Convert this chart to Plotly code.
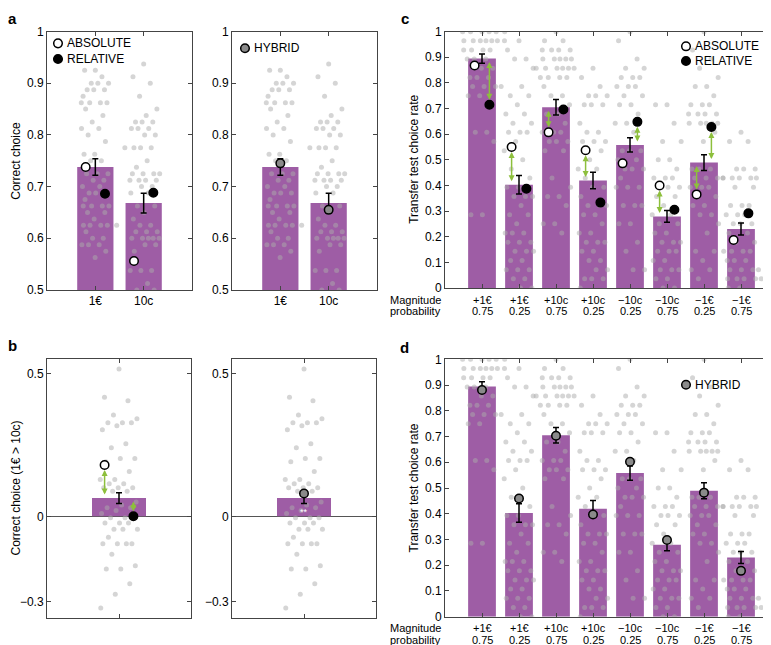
import plotly.graph_objects as go

# ---------------- panels a / b : learning test accuracy ----------------
money = ["1€", "10c"]
acc_mean = [0.738, 0.668]
acc_sem = [0.016, 0.019]
acc_absolute = [0.738, 0.556]
acc_relative = [0.686, 0.688]
acc_hybrid = [0.745, 0.655]

# one value per participant
acc_1e = [0.925, 0.925, 0.9125, 0.9, 0.9, 0.9, 0.8875, 0.8875, 0.8875, 0.875,
          0.8625, 0.8625, 0.8625, 0.8625, 0.85, 0.8375, 0.825, 0.8125, 0.8125,
          0.8, 0.7875, 0.7625, 0.7625, 0.75, 0.75, 0.725, 0.725, 0.725, 0.7125,
          0.7125, 0.7, 0.7, 0.6875, 0.6875, 0.6875, 0.675, 0.6625, 0.6625,
          0.6625, 0.6625, 0.65, 0.65, 0.6375, 0.625, 0.625, 0.625, 0.625, 0.625,
          0.6125, 0.6, 0.6, 0.5875, 0.5875, 0.5875, 0.575, 0.5625]
acc_10c = [0.9375, 0.9125, 0.9, 0.875, 0.85, 0.8375, 0.825, 0.825, 0.825,
           0.8125, 0.8125, 0.8125, 0.8, 0.8, 0.775, 0.775, 0.775, 0.775, 0.75,
           0.7375, 0.725, 0.725, 0.725, 0.725, 0.7125, 0.7125, 0.7125, 0.7125,
           0.7, 0.7, 0.6875, 0.6875, 0.6625, 0.6625, 0.65, 0.6375, 0.625, 0.625,
           0.6125, 0.6125, 0.6125, 0.6, 0.6, 0.6, 0.6, 0.6, 0.5875, 0.5875,
           0.575, 0.5375, 0.5375, 0.5375, 0.5125, 0.5, 0.5]

diff_mean = [0.064]
diff_sem = [0.019]
diff_absolute = [0.18]
diff_relative = [0.0]
diff_hybrid = [0.08]
diff_subjects = [0.516, 0.417, 0.405, 0.355, 0.342, 0.328, 0.328, 0.328, 0.317,
                 0.303, 0.254, 0.24, 0.203, 0.203, 0.191, 0.157, 0.129, 0.129,
                 0.114, 0.114, 0.1, 0.1, 0.1, 0.088, 0.088, 0.05, 0.04, 0.03,
                 0.03, 0.02, 0.01, -0.005, -0.005, -0.005, -0.023, -0.023,
                 -0.023, -0.045, -0.045, -0.045, -0.073, -0.096, -0.096, -0.096,
                 -0.096, -0.133, -0.173, -0.185, -0.185, -0.236, -0.273, -0.321]
diff_arrows = [["abs", "rel"]]

acc_ticks = [0.5, 0.6, 0.7, 0.8, 0.9, 1]
acc_ticktext = ["0.5", "0.6", "0.7", "0.8", "0.9", "1"]
diff_ticks = [-0.3, 0, 0.5]
diff_ticktext = ["−0.3", "0", "0.5"]

# ---------------- panels c / d : transfer test ----------------
magnitude = ["+1€", "+1€", "+10c", "+10c", "−10c", "−10c", "−1€", "−1€"]
probability = ["0.75", "0.25", "0.75", "0.25", "0.25", "0.75", "0.25", "0.75"]
transfer_mean = [0.895, 0.403, 0.705, 0.419, 0.558, 0.279, 0.489, 0.23]
transfer_sem = [0.018, 0.036, 0.030, 0.032, 0.028, 0.023, 0.031, 0.023]
transfer_absolute = [0.868, 0.55, 0.607, 0.537, 0.486, 0.40, 0.365, 0.187]
transfer_relative = [0.715, 0.387, 0.696, 0.333, 0.648, 0.305, 0.628, 0.291]
transfer_hybrid = [0.881, 0.459, 0.703, 0.397, 0.602, 0.298, 0.482, 0.178]
transfer_arrows = [["rel"], ["abs"], ["abs"], ["abs"], ["rel"], ["abs"],
                   ["abs", "rel"], []]

N_TRIALS = 28
# number of times each participant chose the option (out of N_TRIALS)
chosen_p1e_75 = [28, 28, 28, 28, 28, 28, 27, 27, 27, 27, 27, 27, 27, 26, 26, 26,
                 26, 25, 25, 25, 24, 24, 23, 23, 23, 22, 22, 22, 22, 21, 21, 17,
                 17, 16, 8, 8]
chosen_p1e_25 = [27, 26, 25, 25, 24, 22, 21, 21, 20, 19, 19, 18, 18, 17, 17, 17,
                 16, 15, 14, 13, 12, 11, 11, 10, 10, 10, 9, 8, 8, 7, 6, 6, 6, 5,
                 5, 5, 4, 4, 4, 3, 3, 2, 2, 2, 1, 1, 0, 0]
chosen_p10c_75 = [28, 27, 27, 26, 26, 26, 26, 25, 25, 25, 25, 25, 24, 24, 24, 24,
                  24, 24, 23, 23, 23, 23, 22, 21, 21, 20, 19, 19, 18, 17, 17, 17,
                  16, 16, 16, 15, 15, 12, 11, 10, 10, 9, 7, 7, 6]
chosen_p10c_25 = [24, 23, 22, 21, 21, 21, 20, 20, 20, 18, 17, 17, 16, 16, 16, 15,
                  14, 13, 13, 12, 11, 11, 10, 9, 9, 9, 8, 8, 7, 6, 6, 5, 5, 5, 4,
                  4, 3, 3, 2, 2, 1, 1, 1, 0]
chosen_m10c_25 = [28, 27, 25, 24, 24, 23, 23, 23, 22, 22, 22, 21, 21, 20, 20, 19,
                  18, 18, 17, 15, 15, 15, 14, 14, 13, 13, 13, 12, 11, 11, 11, 9,
                  9, 9, 7, 7, 5, 4, 2, 2]
chosen_m10c_75 = [20, 20, 18, 16, 16, 14, 14, 13, 12, 12, 12, 11, 11, 11, 10, 10,
                  9, 8, 8, 7, 7, 6, 6, 5, 5, 5, 4, 4, 4, 3, 3, 2, 2, 2, 1, 1, 0, 0]
chosen_m1e_25 = [28, 26, 25, 24, 23, 22, 22, 21, 20, 20, 20, 19, 19, 19, 19, 18,
                 18, 18, 18, 18, 17, 16, 13, 13, 13, 12, 12, 12, 12, 11, 11, 11,
                 10, 10, 9, 9, 8, 8, 7, 6, 4, 4, 3, 2, 2, 1]
chosen_m1e_75 = [17, 16, 16, 13, 13, 13, 12, 12, 12, 12, 12, 11, 11, 9, 9, 9, 8,
                 8, 8, 7, 7, 7, 6, 6, 5, 5, 4, 4, 4, 4, 3, 3, 3, 2, 2, 2, 2, 1, 1,
                 1, 1, 1, 0, 0]

rate_ticks = [0, 0.1, 0.2, 0.3, 0.4, 0.5, 0.6, 0.7, 0.8, 0.9, 1]
rate_ticktext = ["0", "0.1", "0.2", "0.3", "0.4", "0.5", "0.6", "0.7", "0.8",
                 "0.9", "1"]

# ---------------- styling ----------------
W, H = 771, 645
FONT = "Liberation Sans, Arial, Helvetica, sans-serif"
BAR_COLOR = "rgb(158,93,165)"
DOT_COLOR = "rgba(172,172,172,0.5)"
ARROW_COLOR = "#8dbf3c"
FRAME = "#444444"
MODEL_STYLE = {
    "abs": dict(color="white", line=dict(color="black", width=1.5)),
    "rel": dict(color="black", line=dict(color="black", width=1.5)),
    "hyb": dict(color="#8a8a8a", line=dict(color="black", width=1.5)),
}
MODEL_OFFSET = {"abs": -0.2, "rel": 0.2, "hyb": 0.0}

# panel geometry in pixels: (left, right), (top, bottom), x range, y range,
# and half width (px) of the cloud of participant dots
panels = [
    dict(x=(39, 184), y=(17, 281), xr=(0, 3), yr=(0.5, 1.0), spread=14),        # a left
    dict(x=(224, 369), y=(17, 281), xr=(0, 3), yr=(0.5, 1.0), spread=14),       # a right
    dict(x=(39, 183), y=(352, 616), xr=(0, 2), yr=(-0.355, 0.55), spread=19),   # b left
    dict(x=(224, 368), y=(352, 616), xr=(0, 2), yr=(-0.355, 0.55), spread=19),  # b right
    dict(x=(437, 770), y=(17, 279), xr=(0, 9), yr=(0, 1), spread=15),           # c
    dict(x=(437, 770), y=(352, 615), xr=(0, 9), yr=(0, 1), spread=15),          # d
]


def jitter(values, sx, sy, half, d=5.0):
    """Spread dots over +-half px (golden-ratio sequence), nudging to avoid overlap."""
    placed, offs = [], []
    for j, v in enumerate(values):
        y = v * sy
        base = ((j * 0.6180339887 + 0.5) % 1 - 0.5) * 2 * half
        o = base
        for k in range(60):
            o = base + ((k + 1) // 2) * d * (1 if k % 2 else -1)
            if all((o - px) ** 2 + (y - py) ** 2 >= (0.95 * d) ** 2 for px, py in placed):
                break
        placed.append((o, y))
        offs.append(o / sx)
    return offs


fig = go.Figure()


def add_panel(i, means, sems, dots, models, arrows=None, ticktext=None):
    p = panels[i]
    xa, ya = "x%d" % (i + 1), "y%d" % (i + 1)
    sx = (p["x"][1] - p["x"][0]) / (p["xr"][1] - p["xr"][0])
    sy = (p["y"][1] - p["y"][0]) / (p["yr"][1] - p["yr"][0])
    pos = list(range(1, len(means) + 1))

    fig.add_trace(go.Bar(x=pos, y=means, width=0.75, marker_color=BAR_COLOR,
                         marker_line_width=0, xaxis=xa, yaxis=ya, showlegend=False))

    dx, dy = [], []
    for c, vals in zip(pos, dots):
        offs = jitter(vals, sx, sy, p["spread"])
        dx += [c + o for o in offs]
        dy += list(vals)
    fig.add_trace(go.Scatter(x=dx, y=dy, mode="markers", xaxis=xa, yaxis=ya,
                             marker=dict(size=5, color=DOT_COLOR, line_width=0),
                             showlegend=False, hoverinfo="skip"))

    fig.add_trace(go.Scatter(x=pos, y=means, mode="markers", xaxis=xa, yaxis=ya,
                             marker=dict(size=1, color="rgba(0,0,0,0)"),
                             error_y=dict(type="data", array=sems, color="black",
                                          thickness=1.5, width=3),
                             showlegend=False))

    for name, vals in models:
        off = MODEL_OFFSET[name]
        fig.add_trace(go.Scatter(x=[c + off for c in pos], y=vals, mode="markers",
                                 xaxis=xa, yaxis=ya, showlegend=False,
                                 marker=dict(size=8.5, **MODEL_STYLE[name])))

    if arrows:
        model_vals = dict(models)
        for c, m, which in zip(pos, means, arrows):
            for name in which:
                xv = c + MODEL_OFFSET[name]
                fig.add_annotation(x=xv, y=model_vals[name][c - 1], ax=xv, ay=m,
                                   xref=xa, yref=ya, axref=xa, ayref=ya, text="",
                                   showarrow=True, arrowside="end+start",
                                   arrowhead=2, startarrowhead=2, arrowsize=0.8,
                                   startarrowsize=0.8, arrowwidth=1.5,
                                   arrowcolor=ARROW_COLOR, standoff=5,
                                   startstandoff=2)

    axis_common = dict(showline=True, linecolor=FRAME, linewidth=1, mirror="ticks",
                       ticks="inside", ticklen=4, tickcolor=FRAME, showgrid=False,
                       tickfont=dict(size=12, color="black", family=FONT),
                       fixedrange=True)
    fig.layout["xaxis%d" % (i + 1)] = dict(
        domain=[p["x"][0] / W, p["x"][1] / W], range=list(p["xr"]), anchor=ya,
        tickvals=pos, ticktext=ticktext if ticktext else [""] * len(pos),
        zeroline=False, **axis_common)
    return xa, ya


def y_axis(i, tickvals, ticktext, zeroline=False, size=12):
    p = panels[i]
    ax = dict(showline=True, linecolor=FRAME, linewidth=1, mirror="ticks",
              ticks="inside", ticklen=4, tickcolor=FRAME, showgrid=False,
              tickfont=dict(size=size, color="black", family=FONT), fixedrange=True,
              domain=[1 - p["y"][1] / H, 1 - p["y"][0] / H], range=list(p["yr"]),
              anchor="x%d" % (i + 1), tickvals=tickvals, ticktext=ticktext,
              zeroline=zeroline, zerolinecolor="#555555", zerolinewidth=1)
    fig.layout["yaxis%d" % (i + 1)] = ax


# a
add_panel(0, acc_mean, acc_sem, [acc_1e, acc_10c],
          [("abs", acc_absolute), ("rel", acc_relative)], ticktext=money)
add_panel(1, acc_mean, acc_sem, [acc_1e, acc_10c], [("hyb", acc_hybrid)],
          ticktext=money)
# b
add_panel(2, diff_mean, diff_sem, [diff_subjects],
          [("abs", diff_absolute), ("rel", diff_relative)], arrows=diff_arrows)
add_panel(3, diff_mean, diff_sem, [diff_subjects], [("hyb", diff_hybrid)])
# c / d
chosen = [chosen_p1e_75, chosen_p1e_25, chosen_p10c_75, chosen_p10c_25,
          chosen_m10c_25, chosen_m10c_75, chosen_m1e_25, chosen_m1e_75]
rates = [[k / N_TRIALS for k in ks] for ks in chosen]
add_panel(4, transfer_mean, transfer_sem, rates,
          [("abs", transfer_absolute), ("rel", transfer_relative)],
          arrows=transfer_arrows)
add_panel(5, transfer_mean, transfer_sem, rates, [("hyb", transfer_hybrid)])

y_axis(0, acc_ticks, acc_ticktext)
y_axis(1, acc_ticks, acc_ticktext)
y_axis(2, diff_ticks, diff_ticktext, zeroline=True)
y_axis(3, diff_ticks, diff_ticktext, zeroline=True)
y_axis(4, rate_ticks, rate_ticktext)
y_axis(5, rate_ticks, rate_ticktext)


def txt(x, y, s, size=12, angle=0, anchor="center", color="black"):
    fig.add_annotation(x=x / W, y=1 - y / H, xref="paper", yref="paper", text=s,
                       showarrow=False, textangle=angle, xanchor=anchor,
                       yanchor="middle", borderpad=0,
                       font=dict(size=size, family=FONT, color=color))


def legend_item(cx, cy, label, style):
    fig.add_shape(type="circle", xref="paper", yref="paper", xsizemode="pixel",
                  ysizemode="pixel", xanchor=cx / W, yanchor=1 - cy / H,
                  x0=-4.3, x1=4.3, y0=-4.3, y1=4.3,
                  fillcolor=MODEL_STYLE[style]["color"],
                  line=dict(color="black", width=1.5))
    txt(cx + 8, cy, label, anchor="left")


legend_item(50, 29, "ABSOLUTE", "abs")
legend_item(50, 45, "RELATIVE", "rel")
legend_item(237, 34, "HYBRID", "hyb")
legend_item(678, 32, "ABSOLUTE", "abs")
legend_item(678, 47, "RELATIVE", "rel")
legend_item(678, 378, "HYBRID", "hyb")

# white significance stars inside the hybrid difference bar
fig.add_annotation(x=1, y=0.014, xref="x4", yref="y4", text="**", showarrow=False,
                   font=dict(size=9, color="white", family=FONT))

# two-line condition labels under panels c and d
for xa, bottom in (("x5", 279), ("x6", 615)):
    for c, (m, pr) in enumerate(zip(magnitude, probability), start=1):
        for line, s in ((12, m), (24, pr)):
            fig.add_annotation(x=c, y=1 - (bottom + line) / H, xref=xa, yref="paper",
                               text=s, showarrow=False, yanchor="middle",
                               borderpad=0, font=dict(size=11, family=FONT))
    txt(381, bottom + 12, "Magnitude", size=11, anchor="left")
    txt(381, bottom + 24, "probability", size=11, anchor="left")

# axis titles
txt(8, 149, "Correct choice", angle=-90)
txt(8, 484, "Correct choice (1€ > 10c)", angle=-90)
txt(406, 148, "Transfer test choice rate", angle=-90)
txt(406, 484, "Transfer test choice rate", angle=-90)

# panel letters
txt(4, 4, "<b>a</b>", size=15)
txt(4, 338, "<b>b</b>", size=15)
txt(397, 4, "<b>c</b>", size=15)
txt(397, 340, "<b>d</b>", size=15)

fig.update_layout(width=W, height=H, margin=dict(l=0, r=0, t=0, b=0),
                  paper_bgcolor="white", plot_bgcolor="white",
                  font=dict(family=FONT, size=12, color="black"),
                  barmode="overlay", showlegend=False)

fig.write_html("out.html")
